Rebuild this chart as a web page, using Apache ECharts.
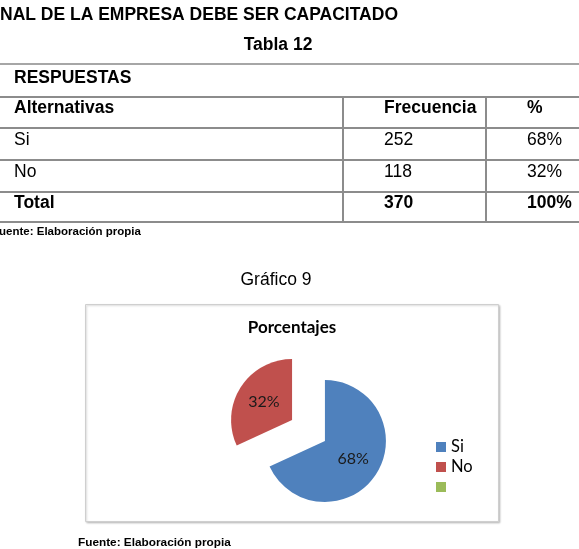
<!DOCTYPE html>
<html>
<head>
<meta charset="utf-8">
<script src="https://cdn.jsdelivr.net/npm/echarts@6/dist/echarts.min.js"></script>
<style>
  html, body { margin: 0; padding: 0; background: #fff; }
  #chart { width: 579px; height: 549px; }
</style>
</head>
<body>
<div id="chart"></div>
<script>
// texts of the page
const heading = 'NAL DE LA EMPRESA DEBE SER CAPACITADO'
const tableTitle = 'Tabla 12'
const groupLabel = 'RESPUESTAS'
const headers = ['Alternativas', 'Frecuencia', '%']
const sourceNote = 'Fuente: Elaboración propia'
const chartCaption = 'Gráfico 9'
const chartTitle = 'Porcentajes'

// table data
const categories = ['Si', 'No']
const frequencies = [252, 118]
const percents = ['68%', '32%']
const totalRow = ['Total', 370, '100%']

// pie data (the third legend entry is empty in the original, '' would mean a line break for the legend)
const pieNames = ['Si', 'No', ' ']
const pieValues = [252, 118, 0]
const pieColors = ['#4F81BD', '#C0504D', '#9BBB59']

const docFont = '"Liberation Sans", Arial, sans-serif'
const chartFont = 'Lato, "Open Sans", sans-serif'
const colX = [14, 384, 527]
const rowLines = [64, 97, 128, 160, 192, 222]

const elements = []
function addText(text, x, y, size, bold, align) {
  elements.push({
    type: 'text',
    x: x,
    y: y,
    silent: true,
    style: {
      text: String(text),
      fontSize: size,
      fontWeight: bold ? 'bold' : 'normal',
      fontFamily: docFont,
      fill: '#000',
      align: align || 'left',
      verticalAlign: 'middle'
    }
  })
}
function addLine(x1, y1, x2, y2, color) {
  elements.push({
    type: 'line',
    silent: true,
    shape: { x1: x1, y1: y1, x2: x2, y2: y2 },
    style: { stroke: color, lineWidth: 2 }
  })
}

addText(heading, 0, 15, 17.5, true)
addText(tableTitle, 278, 45, 17.5, true, 'center')

// table borders
rowLines.forEach((y, i) => addLine(0, y, 579, y, i == 0 ? '#a6a6a6' : '#8c8c8c'))
addLine(343, rowLines[1], 343, rowLines[5], '#8c8c8c')
addLine(486, rowLines[1], 486, rowLines[5], '#8c8c8c')

// table texts
addText(groupLabel, colX[0], rowLines[0] + 14, 17.5, true)
headers.forEach((h, i) => addText(h, colX[i], rowLines[1] + 11, 17.5, true))
categories.forEach((c, r) => {
  const y = rowLines[2 + r] + 12
  addText(c, colX[0], y, 17.5, false)
  addText(frequencies[r], colX[1], y, 17.5, false)
  addText(percents[r], colX[2], y, 17.5, false)
})
totalRow.forEach((t, i) => addText(t, colX[i], rowLines[4] + 11, 17.5, true))

addText(sourceNote, -8, 232, 11.5, true)
addText(chartCaption, 276, 280, 17.5, false, 'center')
addText(sourceNote, 78, 543, 11.8, true)

// chart frame
elements.push({
  type: 'rect',
  silent: true,
  z: -10,
  shape: { x: 85.5, y: 304.5, width: 413, height: 217 },
  style: {
    fill: '#fff',
    stroke: '#cfcfcf',
    lineWidth: 1,
    shadowBlur: 2,
    shadowOffsetX: 1,
    shadowOffsetY: 1,
    shadowColor: 'rgba(0,0,0,0.2)'
  }
})

const option = {
  animation: false,
  backgroundColor: '#fff',
  color: pieColors,
  graphic: { elements: elements },
  title: {
    text: chartTitle,
    left: 292,
    top: 319,
    textAlign: 'center',
    padding: 0,
    textStyle: { fontFamily: chartFont, fontWeight: 'bold', fontSize: 17, color: '#000' }
  },
  legend: {
    orient: 'vertical',
    left: 436,
    top: 437,
    padding: 0,
    itemWidth: 10,
    itemHeight: 10,
    itemGap: 0,
    selectedMode: false,
    icon: 'rect',
    data: pieNames,
    textStyle: { fontFamily: chartFont, fontSize: 16.5, lineHeight: 20, color: '#000' }
  },
  series: [
    {
      type: 'pie',
      center: [308.5, 430.5],
      radius: 61,
      startAngle: 90,
      clockwise: true,
      selectedMode: 'multiple',
      selectedOffset: 19.5,
      silent: true,
      emphasis: { disabled: true },
      label: {
        position: 'inside',
        fontFamily: chartFont,
        fontSize: 16,
        color: '#1a1a1a',
        formatter: function (p) {
          return p.value ? Math.round(p.percent) + '%' : ''
        }
      },
      labelLine: { show: false },
      data: pieValues.map((v, i) => ({ name: pieNames[i], value: v, selected: v > 0 }))
    }
  ]
}

echarts.init(document.getElementById('chart')).setOption(option)
</script>
</body>
</html>
